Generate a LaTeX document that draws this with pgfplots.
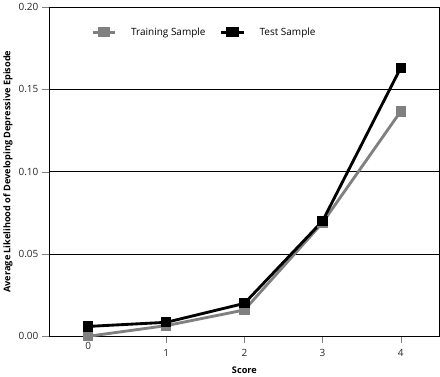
\documentclass[border=0pt]{standalone}
\usepackage{pgfplots}
\pgfplotsset{compat=1.18}
\usepackage{fontspec}
\setmainfont{Open Sans}
\definecolor{tgray}{RGB}{128,128,128}
\begin{document}
\begin{tikzpicture}
\begin{axis}[
  scale only axis, width=382bp, height=322bp,
  xmin=-0.5, xmax=4.5, ymin=0, ymax=0.2,
  xtick={1,2,3,4}, xticklabels={1,2,3,4},
  extra x ticks={0}, extra x tick labels={0},
  extra x tick style={major tick length=0pt},
  ytick={0,0.05,0.1,0.15,0.2},
  yticklabel style={/pgf/number format/.cd, fixed, fixed zerofill, precision=2},
  /pgf/number format/assume math mode=true,
  tick align=outside, major tick length=7bp,
  xtick pos=bottom, ytick pos=left,
  ymajorgrids, grid style={black, line width=0.6pt},
  tick label style={font=\fontsize{9.8}{11}\selectfont, text=black!85},
  xticklabel style={yshift=-2bp},
  xlabel={\bfseries Score}, ylabel={\bfseries Average Likelihood of Developing Depressive Episode},
  label style={font=\fontsize{9}{10}\selectfont},
  xlabel style={yshift=4bp},
  ylabel style={yshift=-1bp},
  legend style={draw=none, fill=none, at={(0.1,0.95)}, anchor=north west, legend columns=2, font=\fontsize{9.8}{11}\selectfont, column sep=12bp},
  legend image post style={xscale=1.3},
  legend cell align=left,
  axis line style={line width=0.6pt},
]
\addplot[tgray, line width=2.8pt, mark=square*, mark size=3.6pt, mark options={solid}] coordinates {
(0,0.000) (1,0.0065) (2,0.016) (3,0.069) (4,0.1366)};
\addlegendentry{Training Sample}
\addplot[black, line width=2.8pt, mark=square*, mark size=3.6pt] coordinates {
(0,0.006) (1,0.0085) (2,0.020) (3,0.070) (4,0.163)};
\addlegendentry{Test Sample}
\end{axis}
\end{tikzpicture}
\end{document}
